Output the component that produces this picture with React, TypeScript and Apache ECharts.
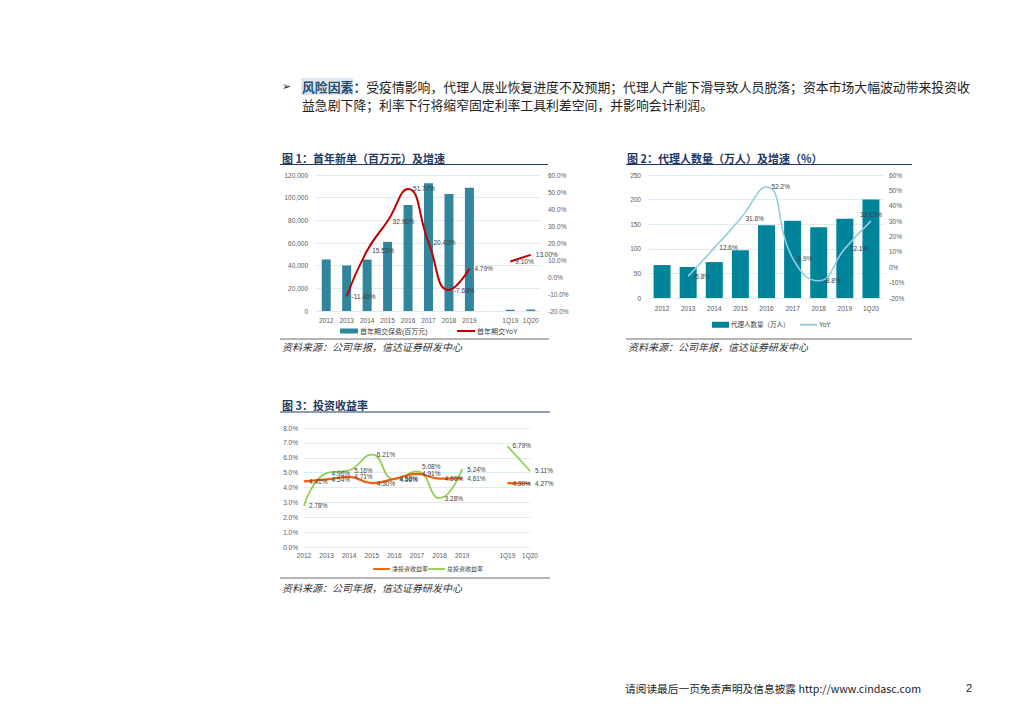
import React, { useEffect, useRef } from 'react';
import * as echarts from 'echarts';

// ---- Chart 1: 首年新单 ----
const cats1 = ['2012', '2013', '2014', '2015', '2016', '2017', '2018', '2019', '', '1Q19', '1Q20'];
const premium1 = [45500, 40200, 45400, 61000, 93500, 112700, 103300, 108800, null, 1200, 1300];
const yoy1 = [null, -11.46, 15.53, 32.9, 51.77, 20.43, -7.69, 4.79, null, 9.1, 13.0];

// ---- Chart 2: 代理人数量 ----
const cats2 = ['2012', '2013', '2014', '2015', '2016', '2017', '2018', '2019', '1Q20'];
const agents2 = [67, 63, 73, 97, 148, 157, 144, 161, 200];
const yoy2 = [null, -5.8, 12.6, 31.6, 52.2, 5.9, -8.8, 12.1, 30.13];

// ---- Chart 3: 投资收益率 ----
const cats3 = ['2012', '2013', '2014', '2015', '2016', '2017', '2018', '2019', '', '1Q19', '1Q20'];
const netYield3 = [4.41, 4.54, 4.71, 4.3, 4.58, 4.91, 4.6, 4.61, null, 4.3, 4.27];
const totalYield3 = [2.78, 4.96, 5.16, 6.21, 4.56, 5.08, 3.28, 5.24, null, 6.79, 5.11];

const FONT = "'Liberation Sans', 'Noto Sans CJK SC', sans-serif";
const CJK = "'Noto Sans CJK SC', sans-serif";
const TICK = '#595959';
const LBL = '#404040';
const GRIDC = '#d3e7ee';
const TITLEC = '#1f3864';

const para1 = '受疫情影响，代理人展业恢复进度不及预期；代理人产能下滑导致人员脱落；资本市场大幅波动带来投资收';
const para2 = '益急剧下降；利率下行将缩窄固定利率工具利差空间，并影响会计利润。';
const sourceText = '资料来源：公司年报，信达证券研发中心';

const lineIcon = 'path://M0,0H18V2H0Z';

function axisLabel(margin: number, fmt?: (v: number) => string) {
  return { fontSize: 6.5, color: TICK, fontFamily: FONT, margin, formatter: fmt };
}

function text(x: number, y: number, t: string, style: any = {}) {
  return {
    type: 'text',
    silent: true,
    x,
    y,
    style: { text: t, fill: '#333', fontSize: 11, fontFamily: CJK, verticalAlign: 'middle', ...style },
  };
}
function hline(x1: number, x2: number, y: number, stroke: string, w = 1) {
  return { type: 'line', silent: true, shape: { x1, y1: y, x2, y2: y }, style: { stroke, lineWidth: w } };
}

export default function App() {
  const ref = useRef<HTMLDivElement>(null);
  useEffect(() => {
    if (!ref.current) return;
    const chart = echarts.init(ref.current, undefined, { renderer: 'svg' });
    const valLabel = (digits: number) => ({
      show: true,
      position: 'right',
      distance: 5,
      fontSize: 6.5,
      color: LBL,
      fontFamily: FONT,
      formatter: (p: any) => (p.value == null ? '' : (digits < 0 ? String(p.value) : Number(p.value).toFixed(digits)) + '%'),
    });
    const lineCommon = { type: 'line', smooth: 0.5, symbol: 'circle', symbolSize: 0.01, showSymbol: true, showAllSymbol: true };
    const legendText = (fs: number) => ({ fontSize: fs, color: LBL, fontFamily: FONT, padding: [0, 0, 0, -3] });
    const yoy2Data = yoy2.map((v, i) => (i === yoy2.length - 1 ? { value: v, label: { position: 'top', distance: 3 } } : v));
    const total3Data = totalYield3.map((v, i) => (i === 5 ? { value: v, label: { offset: [0, -5] } } : v));
    const option: any = {
      animation: false,
      backgroundColor: '#fff',
      grid: [
        { left: 316, top: 175, width: 225, height: 136, outerBoundsMode: 'none' },
        { left: 649, top: 175, width: 235, height: 123, outerBoundsMode: 'none' },
        { left: 304, top: 428, width: 226, height: 119, outerBoundsMode: 'none' },
      ],
      xAxis: [
        { type: 'category', gridIndex: 0, data: cats1, axisLine: { show: false }, axisTick: { show: false }, axisLabel: { ...axisLabel(6), interval: 0 } },
        { type: 'category', gridIndex: 1, data: cats2, axisLine: { show: false }, axisTick: { show: false }, axisLabel: { ...axisLabel(7), interval: 0 } },
        { type: 'category', gridIndex: 2, data: cats3, boundaryGap: false, axisLine: { show: false }, axisTick: { show: false }, axisLabel: { ...axisLabel(5), interval: 0 } },
      ],
      yAxis: [
        { type: 'value', gridIndex: 0, min: 0, max: 120000, interval: 20000, axisLine: { show: false }, axisTick: { show: false }, splitLine: { lineStyle: { color: GRIDC, width: 0.8 } }, axisLabel: axisLabel(8, (v: number) => v.toLocaleString('en-US')) },
        { type: 'value', gridIndex: 0, position: 'right', min: -20, max: 60, interval: 10, axisLine: { show: false }, axisTick: { show: false }, splitLine: { show: false }, axisLabel: axisLabel(7, (v: number) => v.toFixed(1) + '%') },
        { type: 'value', gridIndex: 1, min: 0, max: 250, interval: 50, axisLine: { show: false }, axisTick: { show: false }, splitLine: { lineStyle: { color: GRIDC, width: 0.8 } }, axisLabel: axisLabel(8) },
        { type: 'value', gridIndex: 1, position: 'right', min: -20, max: 60, interval: 10, axisLine: { show: false }, axisTick: { show: false }, splitLine: { show: false }, axisLabel: axisLabel(5, (v: number) => v + '%') },
        { type: 'value', gridIndex: 2, min: 0, max: 8, interval: 1, axisLine: { show: false }, axisTick: { show: false }, splitLine: { lineStyle: { color: GRIDC, width: 0.8 } }, axisLabel: axisLabel(6, (v: number) => v.toFixed(1) + '%') },
      ],
      legend: [
        { left: 340, top: 327.5, padding: 0, itemWidth: 18, itemHeight: 5, textStyle: legendText(7), data: [{ name: '首年期交保费(百万元)', icon: 'rect' }] },
        { left: 457, top: 327.5, padding: 0, itemWidth: 18, itemHeight: 5, textStyle: legendText(7), data: [{ name: '首年期交YoY', icon: lineIcon }] },
        { left: 712, top: 321.5, padding: 0, itemWidth: 17, itemHeight: 6, textStyle: legendText(6.5), data: [{ name: '代理人数量（万人）', icon: 'rect' }] },
        { left: 800, top: 321.5, padding: 0, itemWidth: 17, itemHeight: 6, textStyle: legendText(6.5), data: [{ name: 'YoY', icon: lineIcon }] },
        { left: 373, top: 566, padding: 0, itemWidth: 17, itemHeight: 5, textStyle: legendText(6), data: [{ name: '净投资收益率', icon: lineIcon }] },
        { left: 428, top: 566, padding: 0, itemWidth: 17, itemHeight: 5, textStyle: legendText(6), data: [{ name: '总投资收益率', icon: lineIcon }] },
      ],
      series: [
        { name: '首年期交保费(百万元)', type: 'bar', xAxisIndex: 0, yAxisIndex: 0, data: premium1, barWidth: 9, color: '#31859c', itemStyle: { color: '#31859c' } },
        { ...lineCommon, name: '首年期交YoY', xAxisIndex: 0, yAxisIndex: 1, data: yoy1, color: '#c00000', lineStyle: { color: '#c00000', width: 2 }, itemStyle: { color: '#c00000' }, label: valLabel(2), z: 5 },
        { name: '代理人数量（万人）', type: 'bar', xAxisIndex: 1, yAxisIndex: 2, data: agents2, barWidth: 17, color: '#00849a', itemStyle: { color: '#00849a' } },
        { ...lineCommon, name: 'YoY', xAxisIndex: 1, yAxisIndex: 3, data: yoy2Data, color: '#93cddd', lineStyle: { color: '#93cddd', width: 1.6 }, itemStyle: { color: '#93cddd' }, label: valLabel(-1), z: 5 },
        { ...lineCommon, name: '净投资收益率', xAxisIndex: 2, yAxisIndex: 4, data: netYield3, color: '#f0600a', lineStyle: { color: '#f0600a', width: 2.2 }, itemStyle: { color: '#f0600a' }, label: valLabel(2), z: 6 },
        { ...lineCommon, name: '总投资收益率', xAxisIndex: 2, yAxisIndex: 4, data: total3Data, color: '#92d050', lineStyle: { color: '#92d050', width: 1.8 }, itemStyle: { color: '#92d050' }, label: valLabel(2), z: 5 },
      ],
      graphic: [
        text(282, 86, '➢', { fontSize: 11, fontFamily: "'DejaVu Sans', sans-serif", fill: '#222' }),
        {
          type: 'rect', silent: true, shape: { x: 301, y: 78, width: 52, height: 17 }, style: { fill: '#dfe6ee' },
        },
        text(302, 86, '{a|风险因素：}' + para1, {
          fontSize: 12.85, fill: '#222',
          rich: { a: { fill: '#1f4e79', fontSize: 12.85, fontFamily: CJK, fontWeight: 'bold' } },
        }),
        text(302, 104, para2, { fontSize: 12.85, fill: '#222' }),

        text(282, 158, '图 1：首年新单（百万元）及增速', { fontSize: 11, fontWeight: 'bold', fill: TITLEC }),
        hline(280, 548, 164.5, '#1f3864', 1),
        text(627, 158, '图 2：代理人数量（万人）及增速（%）', { fontSize: 11, fontWeight: 'bold', fill: TITLEC }),
        hline(626, 912, 164.5, '#1f3864', 1),
        text(282, 405, '图 3：投资收益率', { fontSize: 11, fontWeight: 'bold', fill: TITLEC }),
        hline(280, 550, 412, '#1f3864', 1),

        hline(280, 549, 339, '#444', 0.8),
        text(282, 346.5, sourceText, { fontSize: 10, fontStyle: 'italic', fill: '#333' }),
        hline(626, 912, 339, '#444', 0.8),
        text(628, 346.5, sourceText, { fontSize: 10, fontStyle: 'italic', fill: '#333' }),
        hline(280, 550, 578, '#444', 0.8),
        text(282, 587, sourceText, { fontSize: 10, fontStyle: 'italic', fill: '#333' }),

        text(625, 688, '请阅读最后一页免责声明及信息披露 http://www.cindasc.com', { fontSize: 10.7, fill: '#222' }),
        text(966, 688, '2', { fontSize: 11, fontFamily: FONT, fill: '#222' }),
      ],
    };
    chart.setOption(option);
    return () => chart.dispose();
  }, []);
  return <div ref={ref} style={{ position: 'absolute', left: 0, top: 0, width: 1024, height: 724, background: '#fff' }} />;
}
